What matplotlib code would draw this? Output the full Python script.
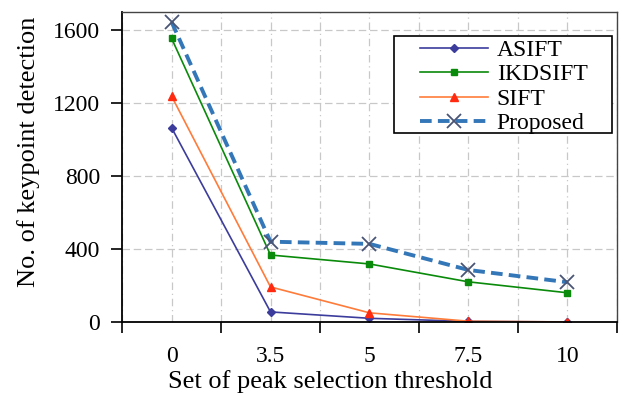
import matplotlib
matplotlib.use("Agg")
import matplotlib.pyplot as plt
from matplotlib.patches import Rectangle
import numpy as np

thresholds = ["0", "3.5", "5", "7.5", "10"]
asift = [1065, 55, 20, 3, 0]
ikdsift = [1555, 367, 318, 220, 160]
sift = [1238, 192, 50, 4, 0]
proposed = [1645, 440, 428, 285, 218]

plt.rcParams["font.family"] = ["Liberation Serif", "DejaVu Serif"]

fig = plt.figure(figsize=(6.23, 3.96), dpi=100)
ax = fig.add_axes([0.196, 0.187, 0.794, 0.783])

x = np.arange(len(thresholds))
ax.plot(x, asift, color="#3c3c9c", lw=1.2, marker="D", ms=4.5, label="ASIFT")
ax.plot(x, ikdsift, color="#0a8a0a", lw=1.2, marker="s", ms=5, label="IKDSIFT")
ax.plot(x, sift, color="#ff7b3a", lw=1.2, marker="^", ms=6,
        markerfacecolor="#ff2a10", markeredgecolor="#ff2a10", label="SIFT")
ax.plot(x, proposed, color="#3477b8", lw=2.8, ls=(0, (3, 1.6)), marker="x", ms=10,
        markeredgecolor="#4a5575", markeredgewidth=1.3, label="Proposed")

ax.set_xlim(-0.5, len(thresholds) - 0.5)
ax.set_ylim(0, 1700)
ax.set_yticks([0, 400, 800, 1200, 1600])
ax.set_xticks(np.arange(-0.5, len(thresholds), 1.0))
ax.set_xticklabels([])
ax.set_xticks(x, minor=True)
ax.set_xticklabels(thresholds, minor=True)
ax.tick_params(axis="x", which="major", direction="out", length=8, width=1.2)
ax.tick_params(axis="x", which="minor", length=0, pad=17, labelsize=17)
ax.tick_params(axis="y", direction="out", length=8, width=1.2, labelsize=17, pad=8)

ax.grid(True, which="both", axis="x", color="#c8c8c8", ls=(0, (6, 3, 1, 3)), lw=0.9)
ax.grid(True, which="major", axis="y", color="#c8c8c8", ls=(0, (6, 3)), lw=0.9)
ax.set_axisbelow(True)

for side in ["left", "bottom"]:
    ax.spines[side].set_linewidth(1.3)
for side in ["top", "right"]:
    ax.spines[side].set_linewidth(1.0)
    ax.spines[side].set_color("#444444")

ax.set_xlabel("Set of peak selection threshold", fontsize=19)
ax.xaxis.set_label_coords(0.42, -0.155)
ax.set_ylabel("No. of keypoint detection", fontsize=19)
ax.yaxis.set_label_coords(-0.165, 0.55)

# legend: frameless content plus a plain black box around it
leg = ax.legend(loc="upper left", bbox_to_anchor=(0.674, 0.9),
                bbox_transform=fig.transFigure, fontsize=17, frameon=False,
                handlelength=2.9, borderpad=0, borderaxespad=0,
                labelspacing=0.12, handletextpad=0.35)
leg.set_zorder(6)
ax.add_patch(Rectangle((0.632, 0.664), 0.35, 0.245, transform=fig.transFigure,
                       facecolor="white", edgecolor="black", lw=1.2,
                       zorder=5, clip_on=False))

fig.savefig("out.png", dpi=100)
